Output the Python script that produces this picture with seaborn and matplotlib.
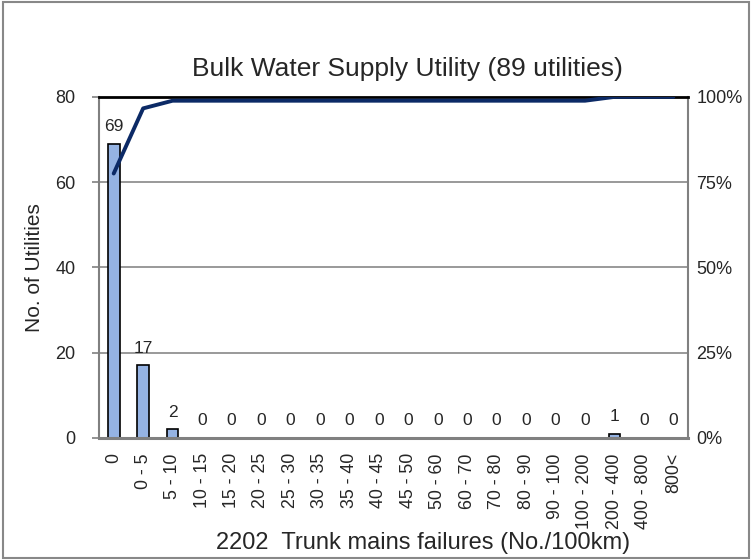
import matplotlib
matplotlib.use("Agg")
import matplotlib.pyplot as plt
import seaborn as sns
import numpy as np
import pandas as pd

categories = ["0", "0 - 5", "5 - 10", "10 - 15", "15 - 20", "20 - 25", "25 - 30", "30 - 35",
              "35 - 40", "40 - 45", "45 - 50", "50 - 60", "60 - 70", "70 - 80", "80 - 90",
              "90 - 100", "100 - 200", "200 - 400", "400 - 800", "800<"]
counts = [69, 17, 2, 0, 0, 0, 0, 0, 0, 0, 0, 0, 0, 0, 0, 0, 0, 1, 0, 0]

df = pd.DataFrame({"cat": categories, "n": counts})
df["cum"] = np.cumsum(df["n"]) / df["n"].sum() * 100

sns.set_style("white")
plt.rcParams['font.family'] = ['Liberation Sans', 'DejaVu Sans']

fig = plt.figure(figsize=(7.52, 5.6), dpi=100)
ax = fig.add_axes([0.1316, 0.218, 0.7834, 0.609])

sns.barplot(data=df, x="cat", y="n", color="#95b3e3", edgecolor="black",
            linewidth=1.2, width=0.4, saturation=1, ax=ax)
ax.set_ylim(0, 80)
ax.set_yticks([0, 20, 40, 60, 80])
ax.yaxis.grid(True, color="#888888", linewidth=1.2)
ax.set_axisbelow(True)
ax.tick_params(axis="y", labelsize=13, length=5, width=1.2, color="#808080", pad=12, left=True)
ax.tick_params(axis="x", labelsize=12.8, rotation=90, length=0, pad=11)
ax.set_xlim(-0.5, len(categories) - 0.5)
for s in ["left", "bottom", "right"]:
    ax.spines[s].set_color("#808080")
    ax.spines[s].set_linewidth(1.5)
ax.spines["top"].set_color("black")
ax.spines["top"].set_linewidth(2)
ax.spines["bottom"].set_linewidth(2.2)

for i, v in enumerate(df["n"]):
    ax.text(i, v + 2.3, str(v), ha="center", va="bottom", fontsize=12.5)

ax.set_ylabel("No. of Utilities", fontsize=15, labelpad=8)
ax.set_xlabel("2202  Trunk mains failures (No./100km)", fontsize=17, labelpad=0)
ax.xaxis.set_label_coords(0.55, -0.276)
ax.set_title("Bulk Water Supply Utility (89 utilities)", fontsize=19, pad=15, x=0.523)

ax2 = ax.twinx()
ax2.plot(np.arange(len(categories)), df["cum"], color="#0c2a66", linewidth=2.8)
ax2.set_ylim(0, 100)
ax2.set_yticks([0, 25, 50, 75, 100])
ax2.set_yticklabels(["0%", "25%", "50%", "75%", "100%"])
ax2.tick_params(axis="y", labelsize=13, length=0, pad=6)
for s in ax2.spines.values():
    s.set_visible(False)

fig.patches.append(plt.Rectangle((0.004, 0.004), 0.992, 0.992, transform=fig.transFigure,
                                 fill=False, edgecolor="#888888", linewidth=1.5))

fig.savefig("out.png", dpi=100)
